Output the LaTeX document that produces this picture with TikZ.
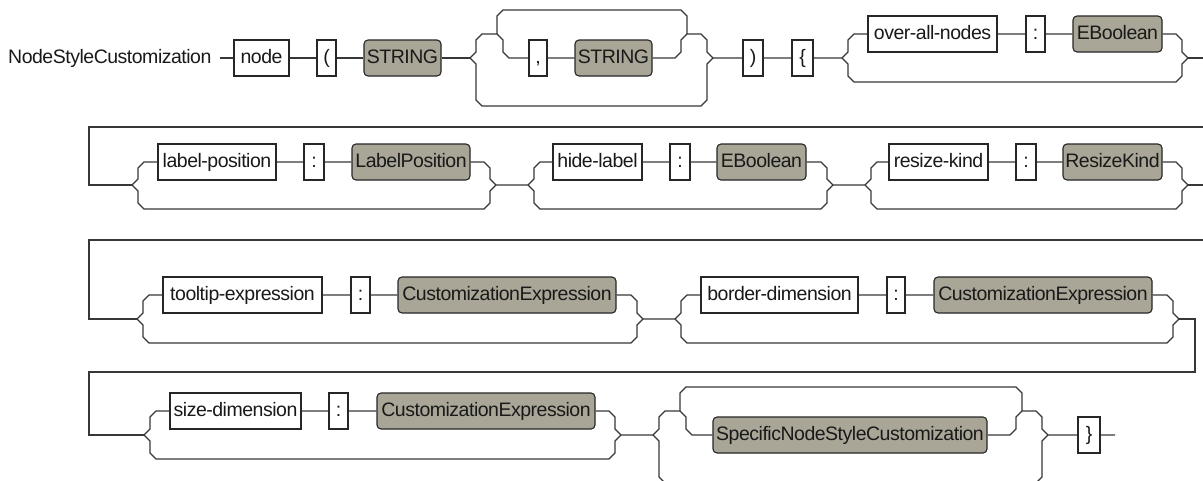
\documentclass[tikz,border=0pt]{standalone}
\usepackage{fontspec}
\setmainfont[LetterSpace=-2.5]{Liberation Sans}
\usetikzlibrary{calc}
\definecolor{ntgray}{RGB}{169,166,151}
\definecolor{railc}{RGB}{55,55,55}
\tikzset{
  rr/.style={x=1pt, y=-1pt, line width=1.1pt, color=railc,
             every node/.style={font=\fontsize{19.5}{21}\selectfont, text=black!90, inner sep=0pt,
                                minimum height=36pt, text height=14pt, text depth=4pt}},
  kw/.style={draw=black!85, fill=white, minimum width=#1},
  nt/.style={draw=black!85, fill=ntgray, rounded corners=4pt, minimum width=#1},
  title/.style={anchor=east, inner xsep=8pt, minimum height=0pt},
  fup/.style={to path={-- ++(6,-6) -- ($(\tikztostart |- \tikztotarget)+(6,6)$) -- ++(6,-6) -- (\tikztotarget)}},
  fdn/.style={to path={-- ++(6,6) -- ($(\tikztostart |- \tikztotarget)+(6,-6)$) -- ++(6,6) -- (\tikztotarget)}},
  jup/.style={to path={-- ($(\tikztotarget |- \tikztostart)+(-12,0)$) -- ++(6,-6) -- ($(\tikztotarget)+(-6,6)$) -- (\tikztotarget)}},
  jdn/.style={to path={-- ($(\tikztotarget |- \tikztostart)+(-12,0)$) -- ++(6,6) -- ($(\tikztotarget)+(-6,-6)$) -- (\tikztotarget)}},
  rep/.style={to path={-- ++(0,-18) -- ++(6,-6) -- ($(\tikztotarget)+(-6,-24)$) -- ($(\tikztotarget)+(0,-18)$) -- (\tikztotarget)}},
  bypass/.style={to path={-- ++(6,6) -- ++(0,#1-12) -- ++(6,6) -- ($(\tikztotarget)+(-12,#1)$) -- ++(6,-6) -- ++(0,12-#1) -- (\tikztotarget)}}
}

\begin{document}
\begin{tikzpicture}[rr]
\useasboundingbox (0,0) rectangle (1203,480);
\clip (0,0) rectangle (1203,480);
% row 1
\node[title] (title) at (220,58) {NodeStyleCustomization};
\node[kw=55pt] (node) at (261.5,58) {node};
\node[kw=19pt] (lpar) at (326.5,58) {(};
\node[nt=77pt] (str1) at (402.5,58) {STRING};
\coordinate (b1) at (470,58);
\coordinate (r1) at (497,34);
\node[kw=18pt] (comma) at (538,58) {,};
\node[nt=77pt] (str2) at (613.5,58) {STRING};
\coordinate (r2) at (687,34);
\coordinate (b2) at (713,58);
\node[kw=20pt] (rpar) at (753,58) {)};
\node[kw=21pt] (lbr) at (802.5,58) {\{};
\coordinate (b3) at (842,58);
\node[kw=129pt] (oan) at (932.5,34) {over-all-nodes};
\node[kw=19pt] (c1) at (1035.5,34) {:};
\node[nt=89pt] (eb1) at (1117.5,34) {EBoolean};
\coordinate (b4) at (1188,58);
\draw (title) -- (node) -- (lpar) -- (str1) -- (b1);
\draw (b1) to[fup] (r1) to[fdn] (comma) -- (str2) to[jup] (r2) to[jdn] (b2);
\draw (r1) to[rep] (r2);
\draw (b1) to[bypass=48] (b2);
\draw (b2) -- (rpar) -- (lbr) -- (b3) to[fup] (oan) -- (c1) -- (eb1) to[jdn] (b4);
\draw (b3) to[bypass=24] (b4);
% row 2
\coordinate (w1) at (1230,127);
\coordinate (w2) at (89,127);
\coordinate (b5) at (132,185);
\node[kw=118pt] (lpos) at (217,162) {label-position};
\node[kw=20pt] (c2) at (314,162) {:};
\node[nt=118pt] (lposv) at (411,162) {LabelPosition};
\coordinate (b6) at (496,185);
\coordinate (b7) at (528,185);
\node[kw=89pt] (hl) at (597.5,162) {hide-label};
\node[kw=20pt] (c3) at (680,162) {:};
\node[nt=89pt] (eb2) at (761.5,162) {EBoolean};
\coordinate (b8) at (833,185);
\coordinate (b9) at (865,185);
\node[kw=99pt] (rk) at (938.5,162) {resize-kind};
\node[kw=20pt] (c4) at (1026,162) {:};
\node[nt=99pt] (rkv) at (1112.5,162) {ResizeKind};
\coordinate (b10) at (1188,185);
\draw (b4) -| (w1) -- (w2) |- (b5);
\draw (b5) to[fup] (lpos) -- (c2) -- (lposv) to[jdn] (b6) -- (b7) to[fup] (hl) -- (c3) -- (eb2) to[jdn] (b8)
  -- (b9) to[fup] (rk) -- (c4) -- (rkv) to[jdn] (b10);
\draw (b5) to[bypass=24] (b6); \draw (b7) to[bypass=24] (b8); \draw (b9) to[bypass=24] (b10);
% row 3
\coordinate (w3) at (1230,240);
\coordinate (w4) at (89,240);
\coordinate (b11) at (137,319);
\node[kw=159pt] (tte) at (242.5,295) {tooltip-expression};
\node[kw=19pt] (c5) at (360.5,295) {:};
\node[nt=218pt] (ce1) at (507,295) {CustomizationExpression};
\coordinate (b12) at (643,319);
\coordinate (b13) at (675,319);
\node[kw=157pt] (bd) at (779.5,295) {border-dimension};
\node[kw=18pt] (c6) at (896,295) {:};
\node[nt=218pt] (ce2) at (1043,295) {CustomizationExpression};
\coordinate (b14) at (1179,319);
\draw (b10) -| (w3) -- (w4) |- (b11);
\draw (b11) to[fup] (tte) -- (c5) -- (ce1) to[jdn] (b12) -- (b13) to[fup] (bd) -- (c6) -- (ce2) to[jdn] (b14);
\draw (b11) to[bypass=24] (b12); \draw (b13) to[bypass=24] (b14);
% row 4
\coordinate (w5) at (1195,372);
\coordinate (w6) at (89,372);
\coordinate (b15) at (144,435);
\node[kw=131pt] (sd) at (235.5,411) {size-dimension};
\node[kw=19pt] (c7) at (338.5,411) {:};
\node[nt=218pt] (ce3) at (486,411) {CustomizationExpression};
\coordinate (b16) at (621,435);
\coordinate (b17) at (653,435);
\coordinate (r3) at (680,411);
\node[nt=274pt] (snsc) at (850,435) {SpecificNodeStyleCustomization};
\coordinate (r4) at (1022,411);
\coordinate (b18) at (1048,435);
\node[kw=22pt] (rbr) at (1089,435) {\}};
\coordinate (fin) at (1115,435);
\draw (b14) -| (w5) -- (w6) |- (b15);
\draw (b15) to[fup] (sd) -- (c7) -- (ce3) to[jdn] (b16) -- (b17);
\draw (b15) to[bypass=24] (b16);
\draw (b17) to[fup] (r3) to[fdn] (snsc) to[jup] (r4) to[jdn] (b18) -- (rbr) -- (fin);
\draw (r3) to[rep] (r4);
\draw (b17) to[bypass=48] (b18);
\end{tikzpicture}
\end{document}
